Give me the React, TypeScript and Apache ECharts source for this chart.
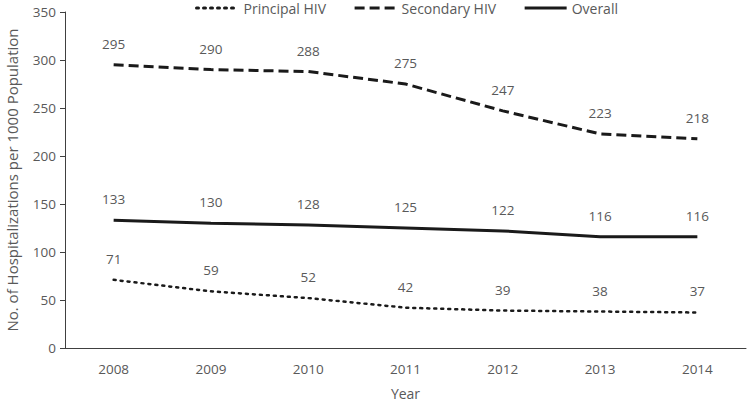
import React, { useEffect, useRef } from "react";
import * as echarts from "echarts";

const years = ["2008", "2009", "2010", "2011", "2012", "2013", "2014"];
const principalHIV = [71, 59, 52, 42, 39, 38, 37];
const secondaryHIV = [295, 290, 288, 275, 247, 223, 218];
const overall = [133, 130, 128, 125, 122, 116, 116];

const FONT = "'Open Sans', 'Liberation Sans', sans-serif";
const GREY = "#595959";
const LINE = "#1a1a1a";

export default function App() {
  const ref = useRef<HTMLDivElement>(null);
  useEffect(() => {
    const chart = echarts.init(ref.current!, null, { renderer: "svg" });
    const label = {
      show: true,
      position: "top" as const,
      distance: 13,
      color: GREY,
      fontSize: 13.5,
      fontFamily: FONT,
    };
    const hiddenSymbol = {
      symbol: "circle",
      symbolSize: 2,
      showSymbol: true,
      itemStyle: { color: "rgba(0,0,0,0)", borderWidth: 0 },
    };
    chart.setOption({
      animation: false,
      textStyle: { fontFamily: FONT },
      legend: {
        top: 0,
        left: 190,
        padding: [1, 5],
        itemWidth: 42,
        itemHeight: 12,
        itemGap: 27,
        lineStyle: { width: 3 },
        textStyle: { color: GREY, fontSize: 14, fontFamily: FONT },
        data: ["Principal HIV", "Secondary HIV", "Overall"],
      },
      grid: {
        left: 65,
        right: 2,
        top: 12,
        bottom: 54,
        containLabel: false,
        outerBoundsMode: "none",
      },
      xAxis: {
        type: "category",
        data: years,
        boundaryGap: true,
        name: "Year",
        nameLocation: "middle",
        nameGap: 38,
        nameTextStyle: { color: GREY, fontSize: 14, fontFamily: FONT },
        axisLine: { lineStyle: { color: "#404040", width: 1 } },
        axisTick: { alignWithLabel: true, length: 5, lineStyle: { color: "#404040" } },
        axisLabel: { color: GREY, fontSize: 13.5, margin: 14, fontFamily: FONT },
      },
      yAxis: {
        type: "value",
        min: 0,
        max: 350,
        interval: 50,
        name: "No. of Hospitalizations per 1000 Population",
        nameLocation: "middle",
        nameGap: 46,
        nameTextStyle: { color: GREY, fontSize: 15, fontFamily: FONT },
        axisLine: { show: true, lineStyle: { color: "#404040", width: 1 } },
        axisTick: { show: true, length: 5, lineStyle: { color: "#404040" } },
        axisLabel: { color: GREY, fontSize: 13.5, margin: 9, fontFamily: FONT },
        splitLine: { show: false },
      },
      series: [
        {
          name: "Principal HIV",
          type: "line",
          data: principalHIV,
          ...hiddenSymbol,
          lineStyle: { color: LINE, width: 2.5, type: [2, 5], cap: "round" },
          label,
        },
        {
          name: "Secondary HIV",
          type: "line",
          data: secondaryHIV,
          ...hiddenSymbol,
          lineStyle: { color: LINE, width: 3, type: [10, 5] },
          label,
        },
        {
          name: "Overall",
          type: "line",
          data: overall,
          ...hiddenSymbol,
          lineStyle: { color: LINE, width: 3 },
          label,
        },
      ],
    });
    return () => chart.dispose();
  }, []);
  return (
    <div
      ref={ref}
      style={{ position: "absolute", left: 0, top: 0, width: 748, height: 402 }}
    />
  );
}
